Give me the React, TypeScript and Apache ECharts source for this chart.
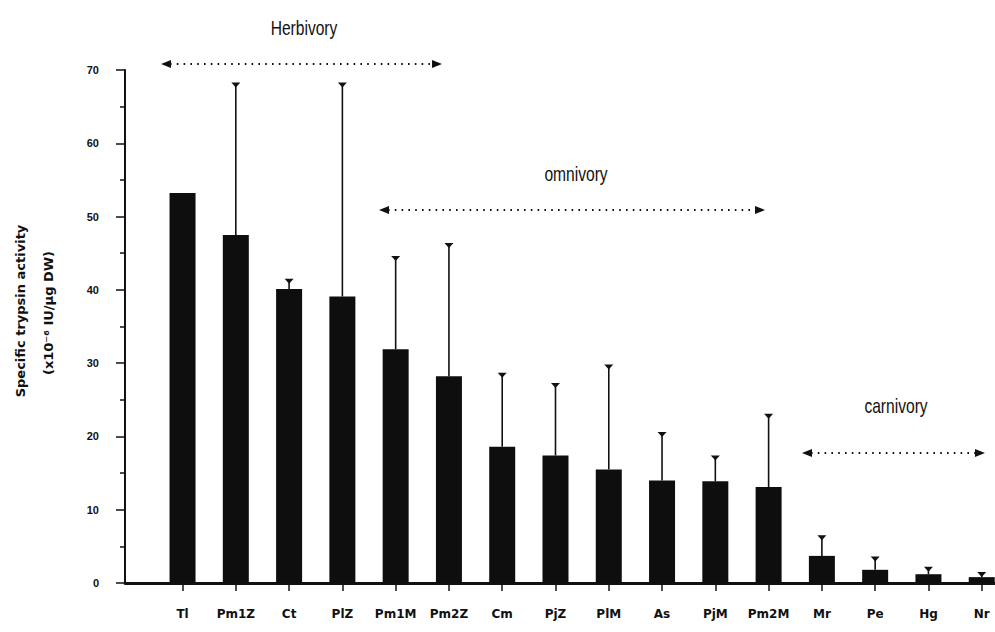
import { useEffect, useRef } from "react";
import * as echarts from "echarts";

const categories = ["Tl", "Pm1Z", "Ct", "PlZ", "Pm1M", "Pm2Z", "Cm", "PjZ", "PlM", "As", "PjM", "Pm2M", "Mr", "Pe", "Hg", "Nr"];
const meanActivity = [53.2, 47.5, 40.1, 39.1, 31.9, 28.2, 18.6, 17.4, 15.5, 14.0, 13.9, 13.1, 3.7, 1.8, 1.2, 0.8];
const errorTop: (number | null)[] = [null, 68.1, 41.3, 68.1, 44.4, 46.2, 28.5, 27.1, 29.6, 20.4, 17.2, 22.9, 6.3, 3.4, 2.0, 1.3];
const yMin = 0;
const yMax = 70;
const yStep = 10;
const yNameLines = ["Specific trypsin activity", "(x10\u207B\u2076 IU/\u00B5g DW)"];
const groupLabels = ["Herbivory", "omnivory", "carnivory"];

const BOLD_FONT = "'Liberation Sans', Arial, sans-serif";
const WIDE_BOLD_FONT = "'DejaVu Sans', Verdana, sans-serif";
const NARROW_FONT = "'Liberation Sans', Arial, sans-serif";

function arrow(x1: number, x2: number, y: number) {
  return {
    type: "group",
    children: [
      {
        type: "line",
        shape: { x1: x1 + 9, y1: y, x2: x2 - 9, y2: y },
        style: { stroke: "#111", lineWidth: 2, lineDash: [1.6, 5.2] },
      },
      {
        type: "polygon",
        shape: { points: [[x1, y], [x1 + 10, y - 4], [x1 + 10, y + 4]] },
        style: { fill: "#111" },
      },
      {
        type: "polygon",
        shape: { points: [[x2, y], [x2 - 10, y - 4], [x2 - 10, y + 4]] },
        style: { fill: "#111" },
      },
    ],
  };
}

function label(text: string, x: number, y: number) {
  return {
    type: "text",
    x,
    y,
    scaleX: 0.78,
    style: { text, fontFamily: NARROW_FONT, fontSize: 20, fill: "#111", textAlign: "center", textVerticalAlign: "middle" },
  };
}

function yName(text: string, x: number, y: number) {
  return {
    type: "text",
    x,
    y,
    rotation: Math.PI / 2,
    style: {
      text,
      fontFamily: WIDE_BOLD_FONT,
      fontWeight: "bold",
      fontSize: 13,
      fill: "#111",
      textAlign: "center",
      textVerticalAlign: "middle",
    },
  };
}

export default function App() {
  const ref = useRef<HTMLDivElement>(null);
  useEffect(() => {
    if (!ref.current) return;
    const chart = echarts.init(ref.current, null, { renderer: "svg" });
    const barData = meanActivity.map((v, i) => [i, v]);
    const errData = errorTop
      .map((hi, i) => (hi == null ? null : [i, meanActivity[i], hi]))
      .filter((d) => d !== null);
    const idx = categories.map((_, i) => i);
    chart.setOption({
      animation: false,
      backgroundColor: "#fff",
      grid: { left: 125, top: 70, width: 910, height: 513, outerBoundsMode: "none", containLabel: false },
      xAxis: {
        type: "value",
        min: -1.08,
        max: 16,
        splitLine: { show: false },
        axisLine: { show: true, onZero: false, lineStyle: { color: "#111", width: 2.8 } },
        axisTick: { show: true, length: 8, customValues: idx, lineStyle: { color: "#111", width: 1.5 } },
        axisLabel: {
          customValues: idx,
          formatter: (v: number) => categories[Math.round(v)] ?? "",
          color: "#111",
          fontFamily: WIDE_BOLD_FONT,
          fontWeight: "bold",
          fontSize: 12,
          margin: 25,
        },
      },
      yAxis: {
        type: "value",
        min: yMin,
        max: yMax,
        interval: yStep,
        splitLine: { show: false },
        axisLine: { show: true, onZero: false, lineStyle: { color: "#111", width: 2 } },
        axisTick: { show: true, length: 9, lineStyle: { color: "#111", width: 1.5 } },
        minorTick: { show: true, splitNumber: 2, length: 5, lineStyle: { color: "#111", width: 1.5 } },
        axisLabel: {
          color: "#111",
          fontFamily: BOLD_FONT,
          fontWeight: "bold",
          fontSize: 11,
          margin: 26,
        },
      },
      series: [
        {
          type: "bar",
          data: barData,
          barWidth: 26,
          itemStyle: { color: "#0e0e0e" },
          z: 2,
        },
        {
          type: "custom",
          data: errData,
          encode: { x: 0, y: [1, 2] },
          z: 3,
          renderItem: (_params: any, api: any) => {
            const x = api.value(0);
            const lo = api.value(1);
            const hi = api.value(2);
            const p0 = api.coord([x, lo]);
            const p1 = api.coord([x, hi]);
            return {
              type: "group",
              children: [
                {
                  type: "line",
                  shape: { x1: p0[0], y1: p0[1], x2: p1[0], y2: p1[1] },
                  style: { stroke: "#111", lineWidth: 1.6 },
                },
                {
                  type: "polygon",
                  shape: { points: [[p1[0] - 4.5, p1[1] - 1.5], [p1[0] + 4.5, p1[1] - 1.5], [p1[0], p1[1] + 3.5]] },
                  style: { fill: "#111" },
                },
              ],
            };
          },
        },
      ],
      graphic: [
        yName(yNameLines[0], 20, 311),
        yName(yNameLines[1], 48, 313),
        label(groupLabels[0], 304, 28),
        arrow(161, 442, 64),
        label(groupLabels[1], 576, 174),
        arrow(379, 765, 210),
        label(groupLabels[2], 896, 406),
        arrow(802, 985, 453),
      ],
    });
    return () => chart.dispose();
  }, []);
  return <div ref={ref} style={{ position: "fixed", left: 0, top: 0, width: 995, height: 632 }} />;
}
